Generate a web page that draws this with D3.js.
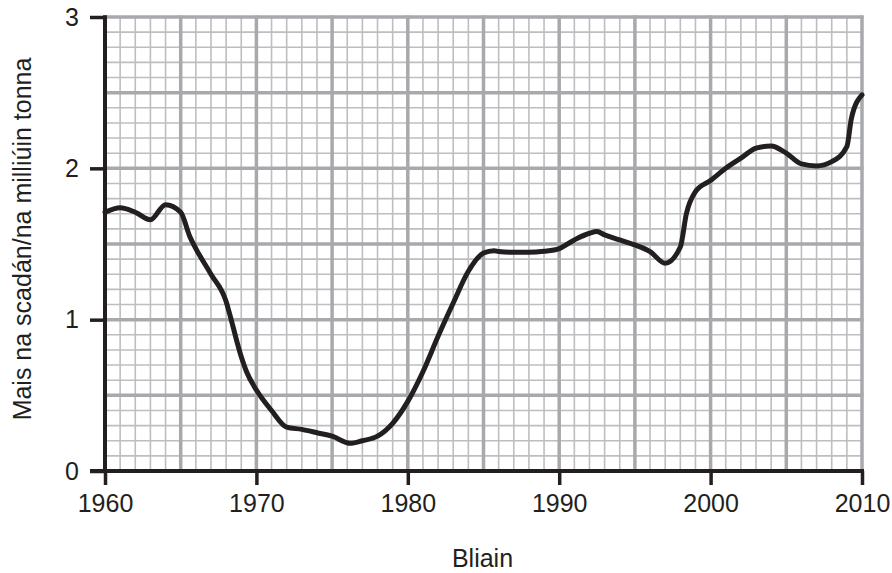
<!DOCTYPE html>
<html>
<head>
<meta charset="utf-8">
<script src="https://cdn.jsdelivr.net/npm/d3@7"></script>
<style>
  body { margin: 0; background: #fff; }
  text { font-family: "Liberation Sans", Arial, sans-serif; fill: #231f20; }
</style>
</head>
<body>
<svg id="chart" width="892" height="573"></svg>
<script>
const YEARS = [1960, 1961, 1962, 1963, 1964, 1965, 1965.6, 1966, 1967, 1968, 1968.2, 1969, 1969.35, 1970,
  1971, 1972, 1973, 1974, 1975, 1976.2, 1977, 1978, 1979, 1980, 1981, 1982, 1983, 1984, 1985, 1985.7,
  1986, 1987, 1988, 1989, 1990, 1991, 1992, 1992.5, 1993, 1994, 1995, 1996, 1997, 1998, 1998.4, 1999,
  2000, 2001, 2002, 2003, 2004, 2005, 2006, 2007, 2008, 2009, 2009.3, 2010];
const CATCH = [1.71, 1.74, 1.71, 1.66, 1.76, 1.71, 1.55, 1.47, 1.30, 1.12, 1.05, 0.755, 0.656, 0.535,
  0.40, 0.29, 0.275, 0.253, 0.23, 0.183, 0.20, 0.23, 0.315, 0.46, 0.656, 0.89, 1.11, 1.32, 1.44, 1.456,
  1.45, 1.445, 1.445, 1.452, 1.47, 1.527, 1.571, 1.582, 1.56, 1.527, 1.494, 1.45, 1.373, 1.48, 1.70, 1.846,
  1.92, 2.0, 2.067, 2.133, 2.148, 2.1, 2.029, 2.016, 2.044, 2.143, 2.33, 2.485];
const X_TICKS = [1960, 1970, 1980, 1990, 2000, 2010];
const Y_TICKS = [0, 1, 2, 3];
const X_TITLE = 'Bliain';
const Y_TITLE = 'Mais na scadán/na milliúin tonna';

const margin = { left: 105, right: 30, top: 17, bottom: 102 };
const W = 892, H = 573;
const ink = '#231f20';

const x = d3.scaleLinear().domain([1960, 2010]).range([margin.left, W - margin.right]);
const y = d3.scaleLinear().domain([0, 3]).range([H - margin.bottom, margin.top]);

const svg = d3.select('#chart');

// graph paper: minor lines every year / 0.1, major every 5 years / 0.5
const grid = svg.append('g');
const minorX = d3.range(1960, 2011, 1);
const minorY = d3.range(0, 31, 1).map((d) => d / 10);

grid.selectAll('line.mx')
  .data(minorX)
  .enter()
  .append('line')
  .attr('x1', (d) => x(d)).attr('x2', (d) => x(d))
  .attr('y1', y(0)).attr('y2', y(3))
  .attr('stroke', '#bcbec0').attr('stroke-width', 1.6);

grid.selectAll('line.my')
  .data(minorY)
  .enter()
  .append('line')
  .attr('y1', (d) => y(d)).attr('y2', (d) => y(d))
  .attr('x1', x(1960)).attr('x2', x(2010))
  .attr('stroke', '#bcbec0').attr('stroke-width', 1.6);

grid.selectAll('line.Mx')
  .data(minorX.filter((d) => d % 5 === 0))
  .enter()
  .append('line')
  .attr('x1', (d) => x(d)).attr('x2', (d) => x(d))
  .attr('y1', y(0)).attr('y2', y(3) - 1.5)
  .attr('stroke', '#a7a9ac').attr('stroke-width', 3.5);

grid.selectAll('line.My')
  .data(d3.range(0, 7).map((d) => d / 2))
  .enter()
  .append('line')
  .attr('y1', (d) => y(d)).attr('y2', (d) => y(d))
  .attr('x1', x(1960)).attr('x2', x(2010) + 1.5)
  .attr('stroke', '#a7a9ac').attr('stroke-width', 3.5);

// axes
const xAxis = svg.append('g')
  .attr('transform', `translate(0,${y(0)})`)
  .call(d3.axisBottom(x).tickValues(X_TICKS).tickFormat(d3.format('d')).tickSize(14).tickPadding(9));

const yAxis = svg.append('g')
  .attr('transform', `translate(${x(1960)},0)`)
  .call(d3.axisLeft(y).tickValues(Y_TICKS).tickFormat(d3.format('d')).tickSize(15).tickPadding(11));

[xAxis, yAxis].forEach((g) => {
  g.select('.domain').remove();
  g.selectAll('.tick line').attr('stroke', ink).attr('stroke-width', 3.5);
  g.selectAll('.tick text')
    .attr('fill', ink)
    .style('font-family', '"Liberation Sans", Arial, sans-serif')
    .style('font-size', '25px');
});

svg.append('line')
  .attr('x1', x(1960) - 15).attr('x2', x(2010) + 2)
  .attr('y1', y(0)).attr('y2', y(0))
  .attr('stroke', ink).attr('stroke-width', 4);

svg.append('line')
  .attr('x1', x(1960)).attr('x2', x(1960))
  .attr('y1', y(3) - 1.75).attr('y2', y(0) + 2)
  .attr('stroke', ink).attr('stroke-width', 4);

// the catch curve
const line = d3.line()
  .x((d, i) => x(YEARS[i]))
  .y((d) => y(d))
  .curve(d3.curveMonotoneX);

svg.append('path')
  .attr('d', line(CATCH))
  .attr('fill', 'none')
  .attr('stroke', ink)
  .attr('stroke-width', 5)
  .attr('stroke-linejoin', 'round')
  .attr('stroke-linecap', 'round');

// titles
svg.append('text')
  .attr('x', (x(1960) + x(2010)) / 2 - 1)
  .attr('y', 567)
  .attr('text-anchor', 'middle')
  .style('font-size', '25px')
  .text(X_TITLE);

svg.append('text')
  .attr('transform', `translate(31,${(y(0) + y(3)) / 2 - 5}) rotate(-90)`)
  .attr('text-anchor', 'middle')
  .style('font-size', '25px')
  .text(Y_TITLE);
</script>
</body>
</html>
